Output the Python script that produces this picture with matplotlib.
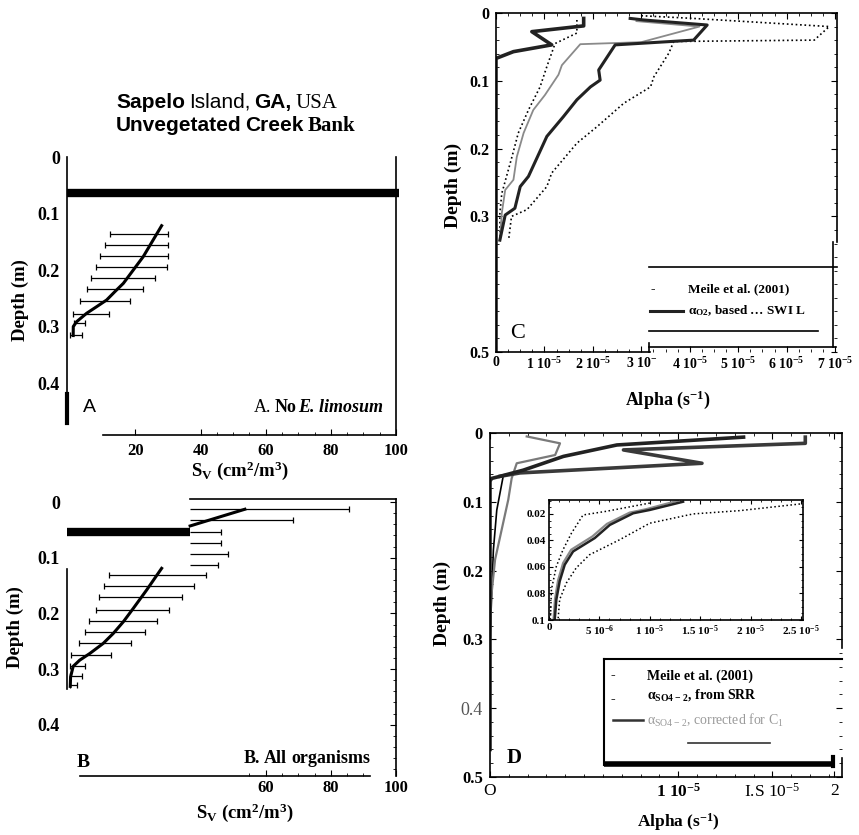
import matplotlib
matplotlib.use('Agg')
import matplotlib.pyplot as plt
from matplotlib.lines import Line2D
from matplotlib.ticker import FixedLocator, MultipleLocator

W, H = 859, 835

# ---- panel A : no E. limosum  (S_V in cm2/m3, depth in m)
a_swi = 0.064
a_bar_depth = [0.136, 0.156, 0.176, 0.195, 0.215, 0.234, 0.254, 0.277, 0.294, 0.315]
a_bar_lo = [12.2, 10.7, 9.1, 7.9, 6.3, 5.0, 3.0, 0.7, 1.1, 0.0]
a_bar_hi = [30.1, 30.1, 30.1, 29.6, 26.0, 22.4, 18.3, 12.0, 4.5, 3.5]
a_mean_sv = [28.05, 22.4, 19.35, 16.3, 13.7, 11.16, 8.1, 5.0, 1.95, 0.93, 0.9]
a_mean_depth = [0.1216, 0.1764, 0.200, 0.2236, 0.2383, 0.2531, 0.2649, 0.2767, 0.2915, 0.300, 0.316]

# ---- panel B : all organisms
b_swi = 0.054
b_mask = 36.8
b_up_depth = [0.013, 0.032, 0.053, 0.074, 0.093, 0.114]
b_up_hi = [85.7, 68.3, 46.2, 46.2, 48.5, 45.4]
b_up_mean_sv = [36.8, 53.6]
b_up_mean_depth = [0.043, 0.013]
b_bar_depth = [0.1305, 0.150, 0.1706, 0.194, 0.213, 0.233, 0.254, 0.275, 0.294, 0.312, 0.329]
b_bar_lo = [12.0, 10.4, 8.8, 7.8, 5.8, 4.5, 2.7, 0.2, 0.0, 0.0, 0.0]
b_bar_hi = [41.7, 38.1, 34.2, 30.4, 26.5, 22.9, 18.8, 12.4, 4.5, 3.5, 2.0]
b_mean_sv = [28.05, 23.45, 19.35, 16.3, 13.2, 10.1, 6.0, 2.9, 0.9, 0.1, 0.0]
b_mean_depth = [0.1191, 0.158, 0.191, 0.215, 0.236, 0.254, 0.272, 0.284, 0.295, 0.314, 0.331]

# ---- panel C : alpha (units of 1e-5 s-1)
c_swi_x = [1.81, 1.81, 0.74, 1.15, 0.36, 0.0, 0.0]
c_swi_d = [0.008, 0.019, 0.0275, 0.047, 0.057, 0.067, 0.5]
c_o2_x = [2.77, 3.05, 4.36, 4.08, 2.46, 2.12, 2.15, 1.95, 1.67, 1.39, 1.05, 0.67, 0.50, 0.39, 0.19, 0.08]
c_o2_d = [0.008, 0.0103, 0.0177, 0.040, 0.047, 0.084, 0.099, 0.109, 0.128, 0.153, 0.182, 0.241, 0.256, 0.288, 0.298, 0.335]
c_meile_x = [2.9, 4.2, 3.0, 1.74, 1.36, 1.29, 1.01, 0.77, 0.57, 0.43, 0.36, 0.19, 0.12, 0.08]
c_meile_d = [0.012, 0.02, 0.043, 0.046, 0.077, 0.091, 0.121, 0.143, 0.177, 0.212, 0.246, 0.261, 0.295, 0.335]
c_lo_x = [1.67, 1.67, 1.22, 1.05, 0.91, 0.67, 0.46, 0.33, 0.12, 0.08, 0.08]
c_lo_d = [0.0103, 0.0296, 0.045, 0.079, 0.109, 0.143, 0.177, 0.212, 0.266, 0.295, 0.335]
c_hi_x = [3.0, 4.08, 6.88, 6.57, 3.67, 3.57, 3.26, 3.19, 2.64, 2.08, 1.67, 1.15, 1.05, 0.64, 0.32, 0.26]
c_hi_d = [0.004, 0.008, 0.020, 0.040, 0.042, 0.059, 0.094, 0.109, 0.133, 0.168, 0.192, 0.236, 0.256, 0.29, 0.30, 0.335]

# ---- panel D : alpha SO4 (units of 1e-5 s-1)
d_srr_x = [1.347, 0.674, 0.39, 0.177, 0.053, 0.009, 0.0, 0.0]
d_srr_d = [0.006, 0.0174, 0.034, 0.054, 0.063, 0.066, 0.07, 0.46]
d_corr_x = [1.675, 1.675, 0.709, 1.126, 0.16, 0.053]
d_corr_d = [0.006, 0.015, 0.0246, 0.044, 0.058, 0.063]
d_meile_x = [0.195, 0.372, 0.346, 0.142, 0.115, 0.097, 0.027, 0.005, 0.0]
d_meile_d = [0.005, 0.015, 0.032, 0.044, 0.066, 0.097, 0.184, 0.242, 0.3]
d_tail_x = [0.07, 0.036, 0.018, 0.008, 0.0]
d_tail_d = [0.063, 0.112, 0.17, 0.243, 0.3]

# inset (0.01 - 0.1 m)
i_corr_x = [1.33, 1.0, 0.835, 0.603, 0.454, 0.239, 0.156, 0.106, 0.073, 0.057]
i_corr_d = [0.0108, 0.017, 0.0195, 0.0283, 0.0382, 0.0483, 0.0583, 0.0708, 0.0845, 0.0995]
i_srr_x = [1.28, 0.96, 0.80, 0.575, 0.43, 0.22, 0.14, 0.09, 0.06, 0.045]
i_srr_d = [0.0100, 0.0165, 0.019, 0.0275, 0.037, 0.047, 0.057, 0.07, 0.084, 0.0995]
i_lo_x = [1.0, 0.57, 0.338, 0.223, 0.139, 0.073, 0.024, 0.014]
i_lo_d = [0.0118, 0.018, 0.0208, 0.0345, 0.047, 0.0595, 0.077, 0.0995]
i_hi_x = [2.49, 1.896, 1.43, 1.0, 0.70, 0.402, 0.27, 0.173, 0.106, 0.09]
i_hi_d = [0.0125, 0.0175, 0.020, 0.027, 0.0395, 0.0508, 0.0607, 0.072, 0.0845, 0.0995]

plt.rcParams.update({
    'font.family': ['Liberation Serif', 'DejaVu Sans'],
    'font.weight': 'bold',
    'mathtext.default': 'regular',
    'axes.linewidth': 1.2,
    'xtick.direction': 'in',
    'ytick.direction': 'in',
})

fig = plt.figure(figsize=(W / 100, H / 100), dpi=100)
fig.patch.set_facecolor('white')
R = fig.canvas.get_renderer()


# helpers working in pixel coordinates of the picture (origin top left)
def box(l, t, r, b):
    return fig.add_axes([l / W, 1 - b / H, (r - l) / W, (b - t) / H])


def fline(xs, ys, **kw):
    fig.add_artist(Line2D([x / W for x in xs], [1 - y / H for y in ys], **kw))


def ftext(x, y, s, **kw):
    return fig.text(x / W, 1 - y / H, s, **kw)


def runs(x, y, parts, align='left'):
    # text made of pieces in different fonts, on one baseline
    objs, cx = [], x
    for s, kw, gap in parts:
        t = ftext(cx, y, s, va='baseline', ha='left', **kw)
        cx += t.get_window_extent(R).width + gap
        objs.append(t)
    if align == 'right':
        shift = (x - (cx - parts[-1][2])) / W
        for t in objs:
            px, py = t.get_position()
            t.set_position((px + shift, py))


def bars(ax, depth, lo, hi, lo_cap=True):
    ax.hlines(depth, lo, hi, color='k', lw=0.9)
    ax.plot(hi, depth, '|', color='k', ms=4, mew=0.9)
    if lo_cap:
        ax.plot(lo, depth, '|', color='k', ms=4, mew=0.9)


sans_b = dict(family='Liberation Sans', weight='bold', fontsize=15)
sans_n = dict(family='Liberation Sans', weight='normal', fontsize=15)
serif_n = dict(family='Liberation Serif', weight='normal', fontsize=15)
serif_b = dict(family='Liberation Serif', weight='bold', fontsize=15)
runs(116, 108, [('Sapelo', sans_b, 4), ('Island,', sans_n, 4), ('GA,', sans_b, 4), ('USA', serif_n, 0)])
runs(116, 131, [('Unvegetated', sans_b, 4), ('Creek', sans_b, 4), ('Bank', serif_b, 0)])

# ================= panel A
axA = box(67, 157, 396, 435)
axA.set_xlim(-1, 100)
axA.set_ylim(0.492, 0)
axA.spines['top'].set_visible(False)
axA.spines['bottom'].set_bounds(10, 100)
axA.spines['left'].set_bounds(0, 0.471)
axA.plot([-1, 101], [a_swi, a_swi], color='k', lw=6, solid_capstyle='butt', clip_on=False)
bars(axA, a_bar_depth, a_bar_lo, a_bar_hi)
axA.plot(a_mean_sv, a_mean_depth, color='k', lw=2.2)
axA.plot([-1, -1], [0.42, 0.471], color='k', lw=3, clip_on=False)
axA.set_xticks([20, 40, 60, 80, 100])
axA.set_xticklabels(['20', '40', '60', '80', '100'])
axA.xaxis.set_minor_locator(FixedLocator(list(range(40, 100, 5))))
axA.set_yticks([0, 0.1, 0.2, 0.3, 0.4])
axA.set_yticklabels(['0', '0.1', '0.2', '0.3', '0.4'])
axA.tick_params(axis='x', which='major', length=4, pad=6, labelsize=12)
axA.tick_params(axis='x', which='minor', length=2.5)
axA.tick_params(axis='y', length=0, pad=5, labelsize=13)
ftext(83, 412, 'A', family='Liberation Sans', weight='normal', fontsize=14, va='baseline')
runs(383, 412, [('A.', dict(weight='normal', fontsize=13), 4),
                ('No', dict(weight='bold', fontsize=13), 1),
                ('E. limosum', dict(weight='bold', style='italic', fontsize=13), 0)], align='right')
ftext(20, 300, 'Depth (m)', rotation=90, ha='center', va='center', fontsize=13.5)
ftext(240, 471, 'S$_V$ (cm$^2$/m$^3$)', ha='center', va='center', fontsize=13.5)

# ================= panel B
axB = box(67, 499, 396, 776)
axB.set_xlim(-1, 100)
axB.set_ylim(0.492, -0.0054)
axB.spines['top'].set_bounds(b_mask, 100)
axB.spines['bottom'].set_bounds(3, 92)
axB.spines['left'].set_bounds(0.12, 0.335)
axB.plot([-1, b_mask], [b_swi, b_swi], color='k', lw=6, solid_capstyle='butt', clip_on=False)
bars(axB, b_up_depth, [b_mask] * len(b_up_depth), b_up_hi, lo_cap=False)
axB.plot(b_up_mean_sv, b_up_mean_depth, color='k', lw=2.2)
bars(axB, b_bar_depth, b_bar_lo, b_bar_hi)
axB.plot(b_mean_sv, b_mean_depth, color='k', lw=2.2)
axB.set_xticks([60, 80, 100])
axB.set_xticklabels(['60', '80', '100'])
axB.xaxis.set_minor_locator(FixedLocator(list(range(55, 95, 5))))
axB.set_yticks([0, 0.1, 0.2, 0.3, 0.4])
axB.set_yticklabels(['0', '0.1', '0.2', '0.3', '0.4'])
axB.yaxis.set_minor_locator(MultipleLocator(0.02))
axB.tick_params(axis='x', which='major', length=4, pad=3, labelsize=12)
axB.tick_params(axis='x', which='minor', length=2.5)
axB.tick_params(axis='y', which='both', left=False, right=True, labelleft=True, pad=5, labelsize=13)
axB.tick_params(axis='y', which='major', length=4)
axB.tick_params(axis='y', which='minor', length=2)
ftext(77, 767, 'B', fontsize=14, va='baseline')
runs(370, 763, [('B.', dict(fontsize=13), 4), ('All', dict(fontsize=13), 4),
                ('organisms', dict(fontsize=13), 0)], align='right')
ftext(15, 627, 'Depth (m)', rotation=90, ha='center', va='center', fontsize=13.5)
ftext(245, 813, 'S$_V$ (cm$^2$/m$^3$)', ha='center', va='center', fontsize=13.5)

# ================= panel C
axC = box(496, 13, 837, 352)
axC.set_xlim(0, 7.04)
axC.set_ylim(0.5, 0)
axC.plot(c_lo_x, c_lo_d, color='k', lw=1.2, ls=':')
axC.plot(c_hi_x, c_hi_d, color='k', lw=1.2, ls=':')
axC.plot(c_meile_x, c_meile_d, color='#8a8a8a', lw=1.3)
axC.plot(c_o2_x, c_o2_d, color='#222222', lw=2.2)
axC.plot(c_swi_x, c_swi_d, color='#222222', lw=2.6)
axC.set_xticks(range(8))
axC.set_xticklabels(['0', '1 10$^{-5}$', '2 10$^{-5}$', '3 10$^{-}$', '4 10$^{-5}$',
                     '5 10$^{-5}$', '6 10$^{-5}$', '7 10$^{-5}$'])
axC.xaxis.set_minor_locator(MultipleLocator(0.25))
axC.set_yticks([0, 0.1, 0.2, 0.3, 0.5])
axC.set_yticklabels(['0', '0.1', '0.2', '0.3', '0.5'])
axC.yaxis.set_minor_locator(MultipleLocator(0.02))
axC.tick_params(which='both', top=True, right=True)
axC.tick_params(which='major', length=4)
axC.tick_params(which='minor', length=2)
axC.tick_params(axis='x', pad=3, labelsize=10)
axC.tick_params(axis='y', pad=4.5, labelsize=11.5)
axC.spines['right'].set_bounds(0, 0.338)
axC.spines['bottom'].set_bounds(0, 3.17)
# scanned legend frame
fline([833, 833], [242, 347], color='k', lw=1.2)
fline([649, 836], [347, 347], color='k', lw=1.2)
fline([649, 649], [343, 352], color='k', lw=1.2)
fline([649, 837], [267, 267], color='k', lw=1.2)
fline([649, 818], [331, 331], color='k', lw=1.2)
ftext(653, 289, '-', va='center', ha='center', fontsize=9.5)
ftext(688, 289, 'Meile et al. (2001)', va='center', fontsize=9.5)
fline([650, 683], [311, 311], color='#222222', lw=2.2)
ftext(688, 311, 'α$_{O2}$, based … SWI L', va='center', fontsize=9.5)
ftext(518, 334, 'C', weight='normal', fontsize=16, ha='center', va='center')
ftext(453, 185, 'Depth (m)', rotation=90, ha='center', va='center', fontsize=14)
ftext(668, 400, 'Alpha (s$^{-1}$)', ha='center', va='center', fontsize=13)

# ================= panel D
axD = box(490, 433, 842, 777)
axD.set_xlim(0, 1.87)
axD.set_ylim(0.5, 0)
axD.plot(d_tail_x, d_tail_d, color='k', lw=1.2)
axD.plot(d_meile_x, d_meile_d, color='#7a7a7a', lw=1.6)
axD.plot(d_corr_x, d_corr_d, color='#3a3a3a', lw=2.6)
axD.plot(d_srr_x, d_srr_d, color='#222222', lw=2.6)
axD.set_xticks([0, 1, 1.5, 1.83])
axD.set_xticklabels(['O', '1 10$^{-5}$', 'I.S 10$^{-5}$', '2'])
axD.xaxis.set_minor_locator(MultipleLocator(0.1))
axD.set_yticks([0, 0.1, 0.2, 0.3, 0.4, 0.5])
axD.set_yticklabels(['0', '0.1', '0.2', '0.3', '0.4', '0.5'])
axD.yaxis.set_minor_locator(MultipleLocator(0.02))
axD.tick_params(which='both', top=True, right=True)
axD.tick_params(which='major', length=4)
axD.tick_params(which='minor', length=2)
axD.tick_params(axis='x', pad=4, labelsize=12.5)
axD.tick_params(axis='y', pad=5, labelsize=12)
for i in (0, 2, 3):
    axD.get_xticklabels()[i].set_fontweight('normal')
ylab = axD.get_yticklabels()[4]
ylab.set_fontweight('normal')
ylab.set_color('#555555')
ylab.set_fontsize(13)
axD.spines['right'].set_bounds(0, 0.312)
axD.plot([1.87, 1.87], [0.472, 0.5], color='k', lw=1.2, clip_on=False)
# scanned legend frame
fline([604, 842], [659, 659], color='k', lw=1.5)
fline([604, 604], [659, 765], color='k', lw=1.5)
fline([604, 833], [764, 764], color='k', lw=4, solid_capstyle='butt')
fline([833, 833], [757, 766], color='k', lw=3)
ftext(613, 676, '-', va='center', ha='center', fontsize=10)
ftext(647, 676, 'Meile et al. (2001)', va='center', fontsize=10)
ftext(613, 700, '-', va='center', ha='center', fontsize=10)
ftext(647, 695, 'α$_{SO4-2}$, from SRR', va='center', fontsize=10)
fline([613, 643], [720, 720], color='#333333', lw=1.8)
ftext(647, 720, 'α$_{SO4-2}$, corrected for C$_1$', va='center', fontsize=10,
      weight='normal', color='#9a9a9a')
fline([688, 770], [743, 743], color='#333333', lw=1.2)
ftext(514, 758, 'D', fontsize=15, ha='center', va='center')
ftext(442, 603, 'Depth (m)', rotation=90, ha='center', va='center', fontsize=14)
ftext(678, 822, 'Alpha (s$^{-1}$)', ha='center', va='center', fontsize=12.5)

# inset of panel D
axI = box(549, 500, 803, 620)
axI.set_xlim(0, 2.52)
axI.set_ylim(0.1, 0.0095)
axI.plot(i_lo_x, i_lo_d, color='k', lw=1.1, ls=':')
axI.plot(i_hi_x, i_hi_d, color='k', lw=1.1, ls=':')
axI.plot(i_srr_x, i_srr_d, color='#8a8a8a', lw=1.6)
axI.plot(i_corr_x, i_corr_d, color='#222222', lw=1.8)
axI.set_xticks([0, 0.5, 1, 1.5, 2, 2.5])
axI.set_xticklabels(['0', '5 10$^{-6}$', '1 10$^{-5}$', '1.5 10$^{-5}$', '2 10$^{-5}$', '2.5 10$^{-5}$'])
axI.xaxis.set_minor_locator(MultipleLocator(0.1))
axI.set_yticks([0.02, 0.04, 0.06, 0.08, 0.1])
axI.set_yticklabels(['0.02', '0.04', '0.06', '0.08', '0.1'])
axI.yaxis.set_minor_locator(MultipleLocator(0.005))
axI.tick_params(which='both', top=True, right=True)
axI.tick_params(which='major', length=3)
axI.tick_params(which='minor', length=1.5)
axI.tick_params(labelsize=8, pad=2.5)

fig.savefig('out.png', dpi=100, facecolor='white')
